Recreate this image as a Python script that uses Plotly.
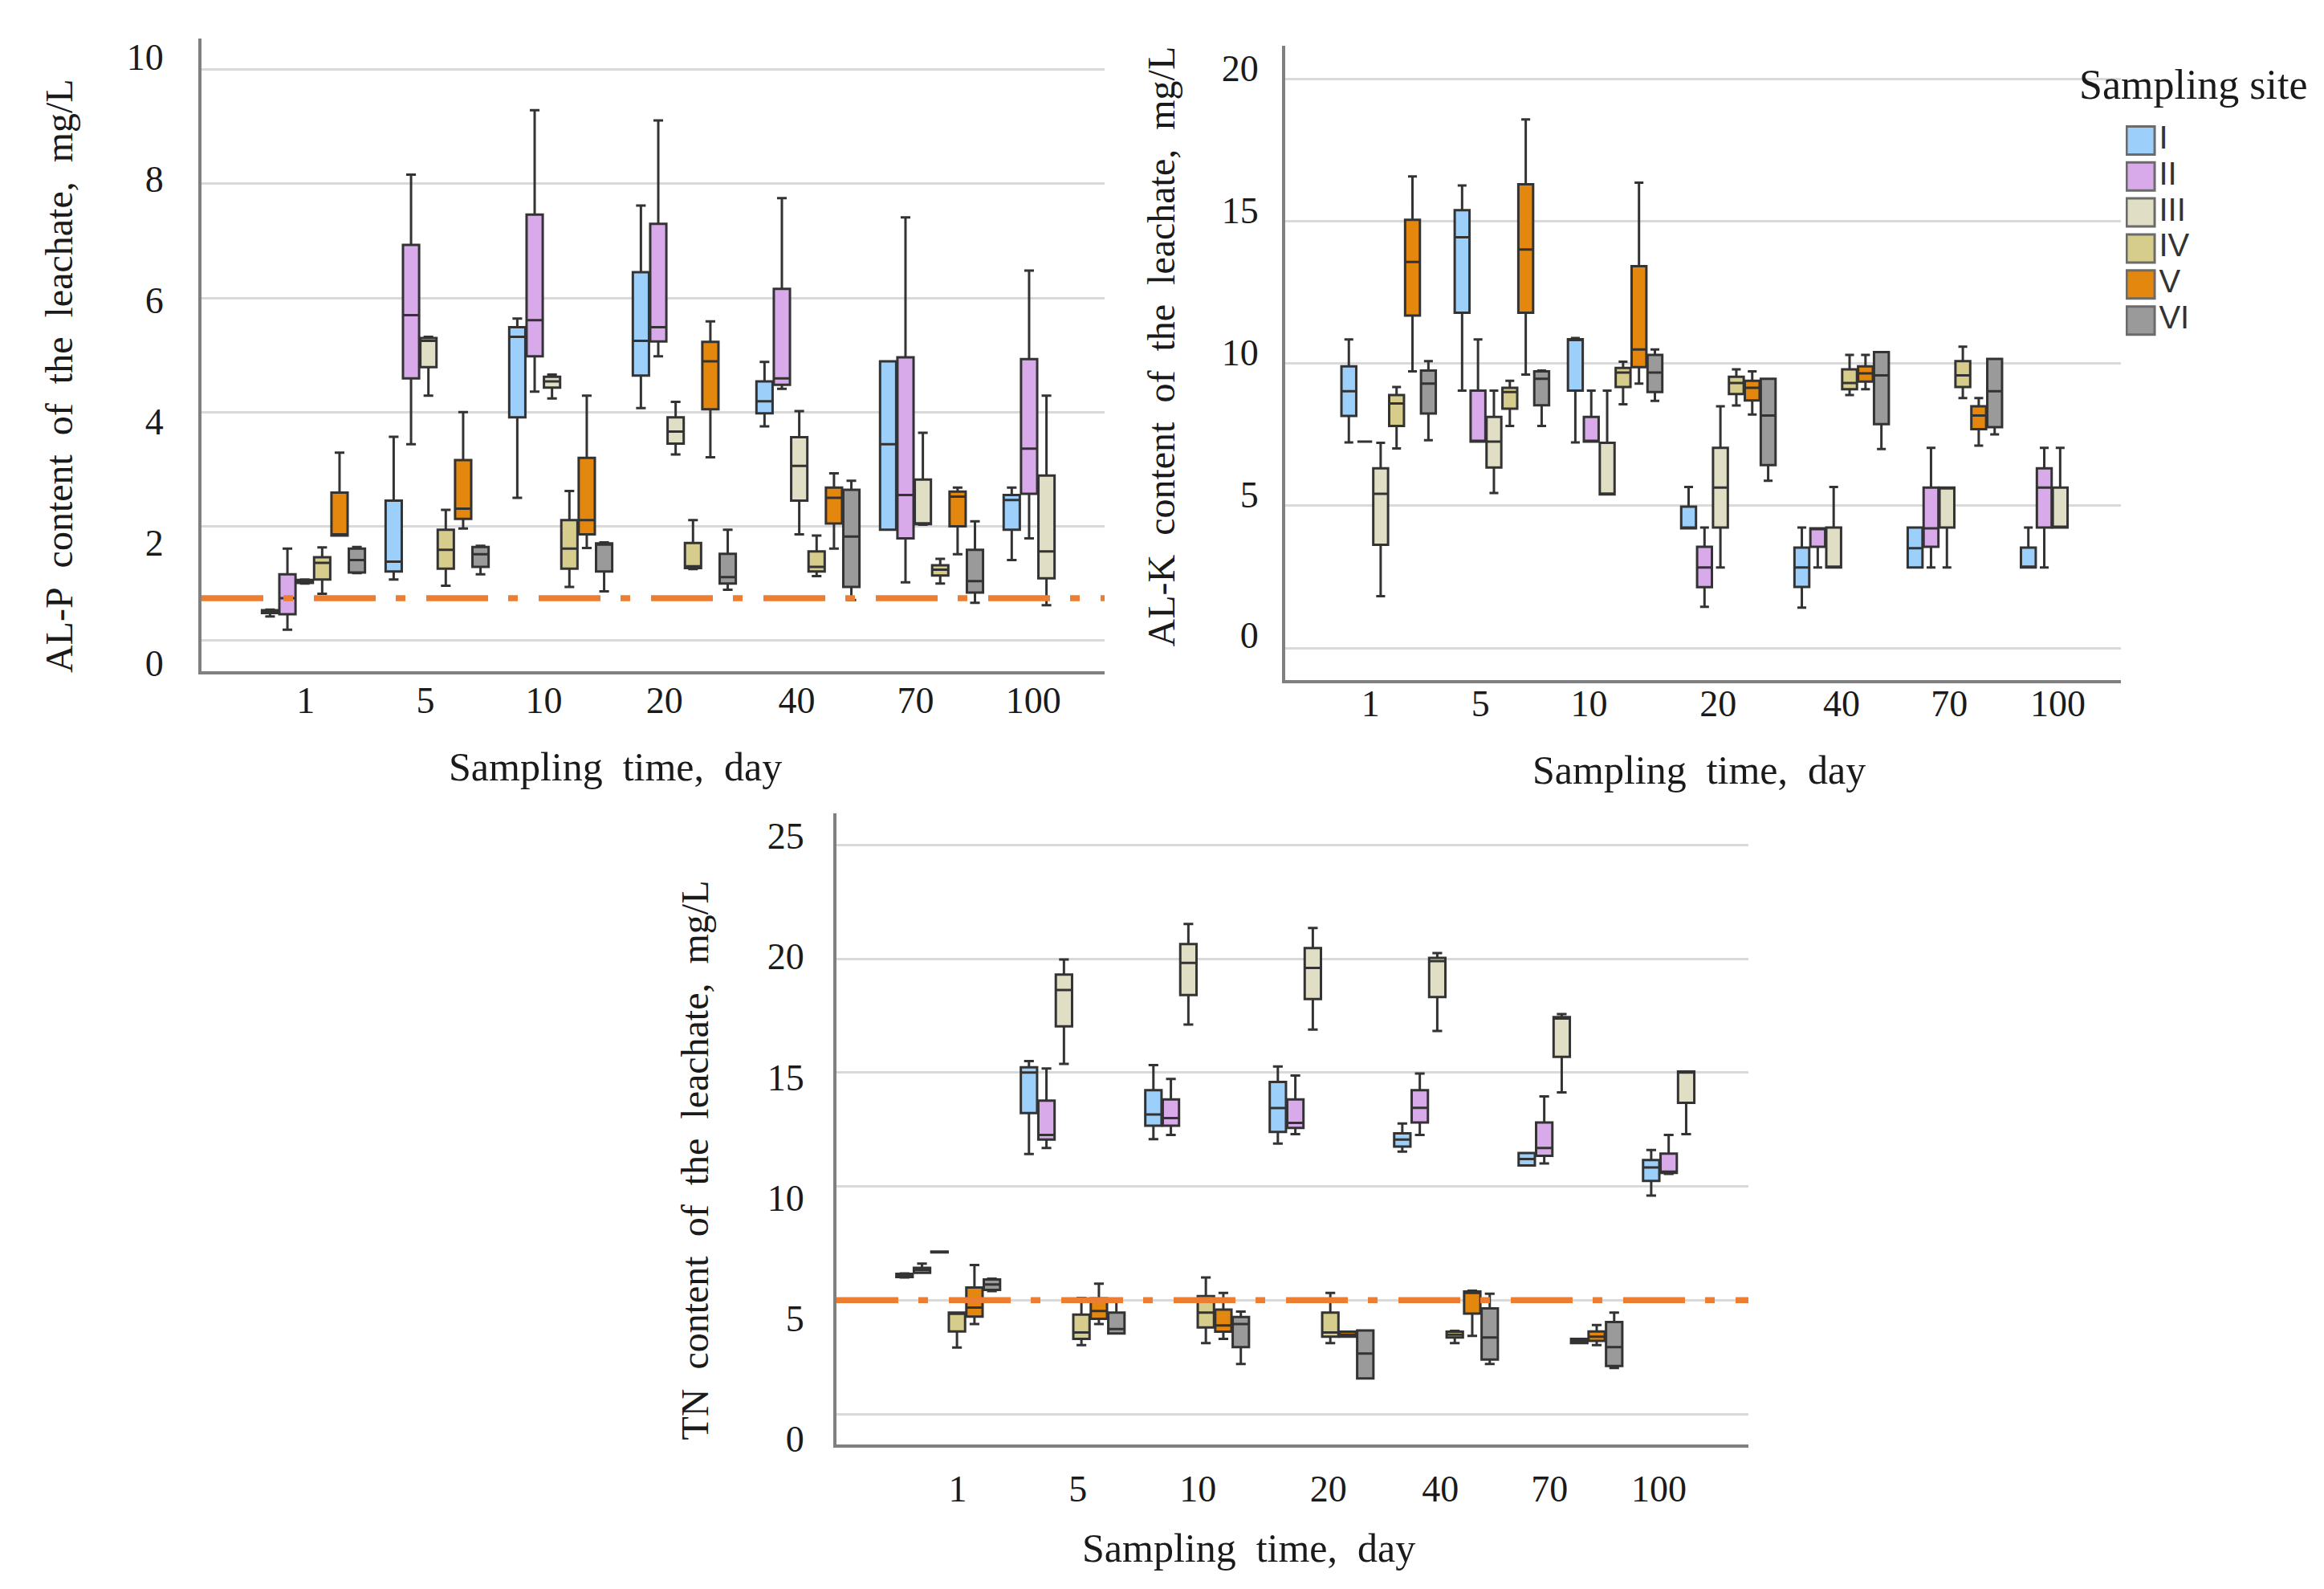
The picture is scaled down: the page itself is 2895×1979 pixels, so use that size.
import plotly.graph_objects as go

W, H = 2895, 1979

DAYS = ["1", "5", "10", "20", "40", "70", "100"]
SITES = ["I", "II", "III", "IV", "V", "VI"]
COLORS = ["#9ccffa", "#d8aaea", "#e0dec4", "#d6cd8c", "#e3870f", "#9a9a9a"]

# box stats per sampling day: (lower whisker, Q1, median, Q3, upper whisker), None = no box
ALP_I = [(0.42, 0.48, 0.51, 0.53, 0.54), (1.07, 1.21, 1.38, 2.45, 3.57), (2.5, 3.91, 5.32, 5.49, 5.64),
         (4.07, 4.64, 5.25, 6.45, 7.62), (3.75, 3.98, 4.19, 4.54, 4.88), (1.94, 1.94, 3.44, 4.89, 4.89),
         (1.41, 1.94, 2.46, 2.55, 2.68)]
ALP_II = [(0.19, 0.46, 0.74, 1.16, 1.61), (3.44, 4.59, 5.70, 6.93, 8.16), (4.36, 4.98, 5.61, 7.46, 9.29),
          (4.98, 5.24, 5.49, 7.3, 9.11), (4.41, 4.48, 4.59, 6.16, 7.75), (1.02, 1.79, 2.55, 4.96, 7.41),
          (1.79, 2.57, 3.36, 4.93, 6.48)]
ALP_III = [(1.0, 1.01, 1.04, 1.06, 1.07), (4.29, 4.79, 5.25, 5.30, 5.32), (4.24, 4.43, 4.54, 4.62, 4.66),
           (3.26, 3.45, 3.66, 3.91, 4.18), (1.86, 2.45, 3.06, 3.56, 4.02), (2.03, 2.04, 2.05, 2.82, 3.64),
           (0.62, 1.09, 1.56, 2.89, 4.29)]
ALP_IV = [(0.82, 1.07, 1.36, 1.46, 1.63), (0.96, 1.26, 1.59, 1.94, 2.29), (0.94, 1.26, 1.61, 2.11, 2.62),
          (1.25, 1.27, 1.30, 1.71, 2.11), (1.13, 1.21, 1.29, 1.56, 1.84), (1.0, 1.14, 1.24, 1.32, 1.43), None]
ALP_V = [(1.84, 1.84, 1.86, 2.59, 3.29), (1.96, 2.13, 2.31, 3.16, 4.0), (1.62, 1.86, 2.11, 3.2, 4.29),
         (3.21, 4.05, 4.89, 5.23, 5.59), (1.61, 2.05, 2.5, 2.68, 2.93), (1.51, 2.0, 2.52, 2.61, 2.68), None]
ALP_VI = [(1.18, 1.19, 1.41, 1.61, 1.64), (1.16, 1.29, 1.51, 1.64, 1.66), (0.86, 1.21, 1.68, 1.70, 1.72),
          (0.89, 1.0, 1.11, 1.52, 1.94), (0.71, 0.94, 1.82, 2.64, 2.8), (0.66, 0.84, 1.04, 1.59, 2.09), None]

ALK_I = [(7.23, 8.16, 9.03, 9.91, 10.85), (9.05, 11.79, 14.45, 15.4, 16.27), (7.23, 9.05, 10.86, 10.86, 10.9),
         (4.21, 4.21, 4.21, 4.97, 5.66), (1.42, 2.15, 2.83, 3.53, 4.24), (2.83, 2.83, 3.51, 4.24, 4.24),
         (2.83, 2.83, 2.83, 3.53, 4.24)]
ALK_II = [(7.26, 7.26, 7.26, 7.26, 7.26), (7.26, 7.26, 7.26, 9.05, 10.85), (7.26, 7.26, 7.26, 8.13, 9.05),
          (1.45, 2.14, 2.83, 3.56, 4.24), (2.83, 3.56, 4.21, 4.21, 4.21), (2.83, 3.56, 4.21, 5.64, 7.04),
          (2.83, 4.24, 5.64, 6.32, 7.04)]
ALK_III = [(1.82, 3.63, 5.42, 6.32, 7.22), (5.45, 6.35, 7.26, 8.13, 9.05), (5.4, 5.4, 5.4, 7.22, 9.05),
           (2.83, 4.24, 5.64, 7.04, 8.5), (2.83, 2.83, 2.83, 4.24, 5.66), (2.83, 4.24, 5.64, 5.64, 5.64),
           (4.24, 4.24, 4.24, 5.64, 7.04)]
ALK_IV = [(7.02, 7.81, 8.6, 8.9, 9.18), (7.81, 8.42, 9.0, 9.15, 9.4), (8.57, 9.18, 9.69, 9.85, 10.07),
          (8.53, 8.93, 9.32, 9.54, 9.8), (8.9, 9.1, 9.32, 9.8, 10.31), (8.79, 9.18, 9.59, 10.09, 10.6), None]
ALK_V = [(9.73, 11.69, 13.58, 15.06, 16.59), (9.62, 11.79, 14.02, 16.31, 18.59), (9.3, 9.88, 10.5, 13.43, 16.37),
         (8.21, 8.71, 9.15, 9.4, 9.73), (9.1, 9.37, 9.66, 9.91, 10.31), (7.12, 7.7, 8.18, 8.5, 8.79), None]
ALK_VI = [(7.31, 8.25, 9.3, 9.76, 10.09), (7.81, 8.54, 9.47, 9.73, 9.76), (8.69, 9.0, 9.69, 10.31, 10.5),
          (5.88, 6.43, 8.18, 9.47, 9.47), (7.0, 7.87, 9.59, 10.41, 10.41), (7.51, 7.77, 9.03, 10.17, 10.17), None]

TN_I = [(6.0, 6.02, 6.1, 6.16, 6.18), (11.42, 13.22, 15.0, 15.23, 15.51), (12.08, 12.67, 13.16, 14.23, 15.33),
        (11.88, 12.39, 13.44, 14.59, 15.27), (11.53, 11.75, 12.06, 12.33, 12.76), (10.92, 10.92, 11.2, 11.47, 11.47),
        (9.6, 10.24, 10.83, 11.16, 11.6)]
TN_II = [(6.2, 6.2, 6.33, 6.42, 6.61), (11.69, 12.06, 12.26, 13.77, 15.18), (12.26, 12.67, 13.0, 13.82, 14.72),
         (12.3, 12.57, 12.79, 13.82, 14.87), (12.26, 12.81, 13.45, 14.23, 14.96), (11.01, 11.34, 11.69, 12.81, 13.95),
         (10.55, 10.59, 10.65, 11.44, 12.26)]
TN_III = [(7.1, 7.1, 7.12, 7.14, 7.14), (15.38, 17.03, 18.63, 19.31, 19.97), (17.11, 18.41, 19.82, 20.65, 21.53),
          (16.89, 18.23, 19.6, 20.47, 21.35), (16.83, 18.32, 19.9, 20.04, 20.25), (14.13, 15.69, 17.38, 17.44, 17.57),
          (12.3, 13.67, 15.0, 15.05, 15.05)]
TN_IV = [(2.92, 3.63, 4.4, 4.46, 4.46), (3.03, 3.3, 3.58, 4.37, 5.1), (3.12, 3.8, 4.46, 5.18, 6.0),
         (3.12, 3.4, 3.58, 4.46, 5.32), (3.12, 3.36, 3.49, 3.62, 3.65), (3.12, 3.12, 3.21, 3.3, 3.3), None]
TN_V = [(3.95, 4.28, 4.68, 5.56, 6.55), (3.95, 4.18, 4.53, 5.08, 5.73), (3.3, 3.62, 3.89, 4.59, 5.32),
        (3.4, 3.4, 3.49, 3.62, 3.62), (3.43, 4.41, 5.32, 5.38, 5.42), (3.03, 3.21, 3.4, 3.63, 3.91), None]
TN_VI = [(5.4, 5.45, 5.69, 5.91, 5.95), (3.54, 3.54, 3.73, 4.46, 4.92), (2.2, 2.94, 3.95, 4.26, 4.5),
         (1.56, 1.56, 2.66, 3.67, 3.67), (2.2, 2.39, 3.36, 4.64, 5.29), (2.02, 2.11, 2.94, 4.04, 4.46), None]

ALP_TICKS = [0, 2, 4, 6, 8, 10]
ALK_TICKS = [0, 5, 10, 15, 20]
TN_TICKS = [0, 5, 10, 15, 20, 25]
ALP_LIMIT = 0.74
TN_LIMIT = 5.0

SERIF = "Liberation Serif"
INK = "#1a1a1a"


def fx(px):
    return px / W


def fy(px):
    return 1 - px / H


# plot-area boxes in pixels (left, top, right, bottom); tick labels in the source
# figure sit slightly off the gridlines, so they get their own positions
panels = [
    dict(data=[ALP_I, ALP_II, ALP_III, ALP_IV, ALP_V, ALP_VI], ticks=ALP_TICKS, limit=ALP_LIMIT,
         area=(243, 39, 1368, 836), yrange=[-0.54, 10.55], xrange=[-0.906, 6.40],
         ylab=[-0.40, 1.72, 3.84, 5.96, 8.09, 10.22], ystand=34, xstand=-7,
         xoff=[-0.064, -0.094, -0.137, -0.161, -0.09, -0.13, -0.177],
         ytitle="AL-P content of the leachate, mg/L", ytpos=(65, 464), xtpos=(758, 956)),
    dict(data=[ALK_I, ALK_II, ALK_III, ALK_IV, ALK_V, ALK_VI], ticks=ALK_TICKS, limit=None,
         area=(1593, 49, 2634, 847), yrange=[-1.13, 21.17], xrange=[-0.913, 6.466],
         ylab=[0.45, 5.4, 10.4, 15.4, 20.4], ystand=20, xstand=-14,
         xoff=[-0.16, -0.188, -0.23, -0.09, 0.0, -0.05, -0.09],
         ytitle="AL-K content of the leachate, mg/L", ytpos=(1438, 427), xtpos=(2108, 960)),
    dict(data=[TN_I, TN_II, TN_III, TN_IV, TN_V, TN_VI], ticks=TN_TICKS, limit=TN_LIMIT,
         area=(1034, 1015, 2170, 1809), yrange=[-1.33, 26.38], xrange=[-0.898, 6.43],
         ylab=[-1.1, 4.2, 9.5, 14.8, 20.1, 25.4], ystand=27, xstand=12,
         xoff=[0.076, 0.042, 0.006, 0.054, -0.045, -0.168, -0.29],
         ytitle="TN content of the leachate, mg/L", ytpos=(858, 1452), xtpos=(1548, 1940)),
]

fig = go.Figure()
layout = {}
notes = []

for n, p in enumerate(panels, start=1):
    sfx = "" if n == 1 else str(n)
    for site, color, stats in zip(SITES, COLORS, p["data"]):
        idx = [i for i, s in enumerate(stats) if s is not None]
        vals = [stats[i] for i in idx]
        fig.add_trace(go.Box(
            x=idx,
            lowerfence=[v[0] for v in vals],
            q1=[v[1] for v in vals],
            median=[v[2] for v in vals],
            q3=[v[3] for v in vals],
            upperfence=[v[4] for v in vals],
            name=site, fillcolor=color,
            line=dict(color="#333333", width=3),
            whiskerwidth=0.6, boxpoints=False,
            alignmentgroup="panel%d" % n, offsetgroup=site,
            showlegend=False, hoverinfo="skip",
            xaxis="x" + sfx, yaxis="y" + sfx,
        ))

    left, top, right, bottom = p["area"]
    layout["xaxis" + sfx] = dict(
        domain=[fx(left), fx(right)], range=p["xrange"], anchor="y" + sfx,
        tickmode="array", tickvals=[i + o for i, o in enumerate(p["xoff"])], ticktext=DAYS,
        showgrid=False, zeroline=False, showline=True, linecolor="#808080", linewidth=4,
        ticks="", ticklabelstandoff=p["xstand"], tickfont=dict(family=SERIF, size=46, color=INK),
    )
    layout["yaxis" + sfx] = dict(
        domain=[fy(bottom), fy(top)], range=p["yrange"], anchor="x" + sfx,
        tickmode="array", tickvals=p["ylab"], ticktext=[str(t) for t in p["ticks"]],
        showgrid=False, zeroline=False, showline=True, linecolor="#808080", linewidth=4,
        ticks="", ticklabelstandoff=p["ystand"], tickfont=dict(family=SERIF, size=46, color=INK),
        minor=dict(tickmode="array", tickvals=p["ticks"], ticks="",
                   showgrid=True, gridcolor="#d9d9d9", gridwidth=3),
    )

    if p["limit"] is not None:
        fig.add_shape(type="line", xref="x" + sfx + " domain", yref="y" + sfx,
                      x0=0, x1=1, y0=p["limit"], y1=p["limit"], layer="above",
                      line=dict(color="#ed7d31", width=7.5, dash="77px,25px,12px,26px"))

    ytext = p["ytitle"].replace(" ", "\u00a0 ")
    notes.append(dict(text=ytext, x=fx(p["ytpos"][0]), y=fy(p["ytpos"][1]), textangle=-90,
                      font=dict(family=SERIF, size=48, color=INK)))
    notes.append(dict(text="Sampling\u00a0 time,\u00a0 day", x=fx(p["xtpos"][0]), y=fy(p["xtpos"][1]),
                      font=dict(family=SERIF, size=50, color=INK)))

# legend drawn as its own little panel so the swatches can match the source size
fig.add_trace(go.Scatter(
    x=[0] * len(SITES), y=list(range(len(SITES))), mode="markers+text",
    marker=dict(symbol="square", size=35, color=COLORS, line=dict(color="#6b6b6b", width=3)),
    text=SITES, textposition="middle right",
    textfont=dict(family="Liberation Sans", size=40, color="#333333"),
    showlegend=False, hoverinfo="skip", xaxis="x4", yaxis="y4",
))
layout["xaxis4"] = dict(domain=[fx(2640), 1], range=[-0.5, 6.375], visible=False, anchor="y4")
layout["yaxis4"] = dict(domain=[fy(417), fy(145)], range=[5.5, -0.5], visible=False, anchor="x4")
notes.append(dict(text="Sampling site", x=fx(2724), y=fy(98),
                  font=dict(family=SERIF, size=52, color=INK)))

for a in notes:
    a.update(xref="paper", yref="paper", showarrow=False, xanchor="center", yanchor="middle")

fig.update_layout(
    width=W, height=H, autosize=False,
    margin=dict(l=0, r=0, t=0, b=0),
    paper_bgcolor="white", plot_bgcolor="white",
    boxmode="group", boxgap=0.157, boxgroupgap=0.07,
    annotations=notes,
    **layout,
)

fig.write_html("out.html")
